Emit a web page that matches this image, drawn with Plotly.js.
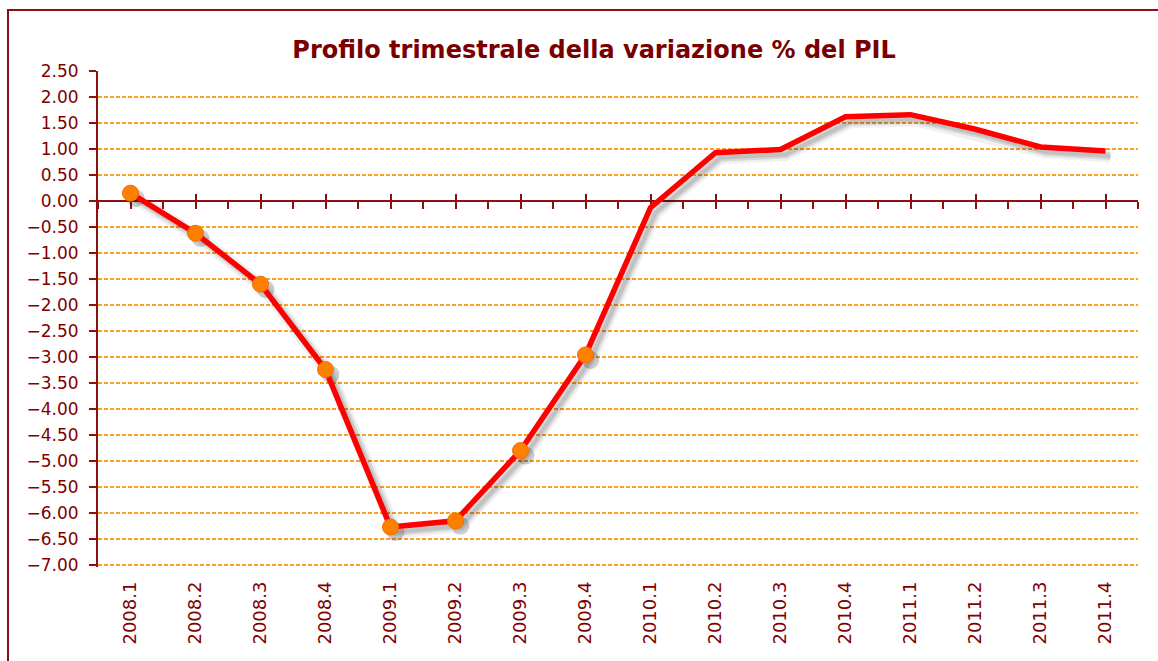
<!DOCTYPE html>
<html>
<head>
<meta charset="utf-8">
<script src="https://cdn.plot.ly/plotly-3.0.1.min.js"></script>
<style>
  html, body { margin: 0; padding: 0; background: #ffffff; overflow: hidden; }
  #chart { position: absolute; left: 0; top: 0; width: 1158px; height: 661px; }
  #frame { position: absolute; left: 7px; top: 9px; width: 1200px; height: 700px;
           border: 2px solid #8B1111; pointer-events: none; }
</style>
</head>
<body>
<div id="chart"></div>
<div id="frame"></div>
<script>
// ---- data ----
const chartTitle = 'Profilo trimestrale della variazione % del PIL';
const categories = ['2008.1','2008.2','2008.3','2008.4','2009.1','2009.2','2009.3','2009.4',
                    '2010.1','2010.2','2010.3','2010.4','2011.1','2011.2','2011.3','2011.4'];
const values = [0.15, -0.62, -1.60, -3.24, -6.27, -6.15, -4.80, -2.96,
                -0.13, 0.93, 0.99, 1.62, 1.66, 1.38, 1.04, 0.96];
const markedCount = 8;   // points shown with a marker (2008.1 - 2009.4)

// ---- styling ----
const textColor = '#800000';
const axisColor = '#8B1111';
const gridColor = '#FFA020';
const pxPerUnit = 52;
const yMin = -7 - 2 / pxPerUnit, yMax = 2.5;   // small pad so the -7.00 gridline is kept
const xMin = -0.5, xMax = categories.length - 0.5;

const M = { l: 98, r: 20, t: 71, b: 94 };
const plotW = 1158 - M.l - M.r, plotH = 661 - M.t - M.b;
const shOffX = 5 * (xMax - xMin) / plotW;   // shadow offset, in axis units
const shOffY = 5 * (yMax - yMin) / plotH;

const markedX = categories.slice(0, markedCount);
const markedY = values.slice(0, markedCount);

// tick positions on the zero axis (category centres + right end)
const upTicks = categories.map((c, i) => i).concat([xMax]);

const helper = (xa, ya) => ({ x: [], y: [], xaxis: xa, yaxis: ya, mode: 'lines',
                              hoverinfo: 'skip', showlegend: false });

const traces = [
  // carries the categories on the base axis (no visible mark)
  { x: categories, y: categories.map(() => null), xaxis: 'x', yaxis: 'y',
    mode: 'lines', hoverinfo: 'skip', showlegend: false },
  helper('x4', 'y'), helper('x5', 'y'),
  // soft shadow
  { x: categories, y: values, xaxis: 'x2', yaxis: 'y2', mode: 'lines',
    line: { color: 'rgba(0,0,0,0.06)', width: 13 }, hoverinfo: 'skip' },
  { x: categories, y: values, xaxis: 'x2', yaxis: 'y2', mode: 'lines',
    line: { color: 'rgba(0,0,0,0.10)', width: 8 }, hoverinfo: 'skip' },
  { x: categories, y: values, xaxis: 'x2', yaxis: 'y2', mode: 'lines',
    line: { color: 'rgba(0,0,0,0.10)', width: 4 }, hoverinfo: 'skip' },
  { x: markedX, y: markedY, xaxis: 'x2', yaxis: 'y2', mode: 'markers',
    marker: { color: 'rgba(0,0,0,0.18)', size: 18 }, hoverinfo: 'skip' },
  // main line
  { x: categories, y: values, xaxis: 'x3', yaxis: 'y3', mode: 'lines',
    line: { color: '#FF0000', width: 5.5 } },
  { x: markedX, y: markedY, xaxis: 'x3', yaxis: 'y3', mode: 'markers',
    marker: { color: '#FF8000', size: 16, line: { color: '#F07000', width: 1 } } }
];

const hiddenX = { overlaying: 'x', type: 'category', visible: false, fixedrange: true };
const hiddenY = { overlaying: 'y', visible: false, fixedrange: true };
const zeroPos = (0 - yMin) / (yMax - yMin);

const layout = {
  width: 1158, height: 661,
  margin: Object.assign({ pad: 0 }, M),
  paper_bgcolor: 'rgba(0,0,0,0)', plot_bgcolor: '#ffffff',
  showlegend: false,
  font: { family: 'DejaVu Sans, Verdana, sans-serif', color: textColor },
  title: {
    text: chartTitle,
    font: { family: 'DejaVu Sans, Verdana, sans-serif', size: 24, color: '#7A0000', weight: 'bold' },
    x: 0.513, xanchor: 'center', y: 1 - 50 / 661, yanchor: 'middle'
  },
  xaxis: {
    type: 'category', range: [xMin, xMax], fixedrange: true,
    showline: false, showgrid: false, zeroline: false, ticks: '',
    tickangle: -90, tickfont: { size: 18, color: textColor },
    ticklabelstandoff: 10
  },
  yaxis: {
    range: [yMin, yMax], fixedrange: true, tickmode: 'linear', tick0: 0, dtick: 0.5,
    tickformat: '.2f', showline: true, linecolor: axisColor, linewidth: 2,
    ticks: 'outside', ticklen: 7, tickwidth: 2, tickcolor: axisColor,
    tickfont: { size: 17, color: textColor }, ticklabelstandoff: 7,
    showgrid: true, gridcolor: gridColor, gridwidth: 1.5, griddash: '4px,2px',
    zeroline: false
  },
  xaxis2: Object.assign({}, hiddenX, { range: [xMin - shOffX, xMax - shOffX] }),
  yaxis2: Object.assign({}, hiddenY, { range: [yMin + shOffY, yMax + shOffY] }),
  xaxis3: Object.assign({}, hiddenX, { range: [xMin, xMax] }),
  yaxis3: Object.assign({}, hiddenY, { range: [yMin, yMax] }),
  // zero axis: ticks pointing down at every half step
  xaxis4: {
    overlaying: 'x', anchor: 'free', position: zeroPos, range: [xMin, xMax],
    fixedrange: true, showline: true, linecolor: axisColor, linewidth: 2,
    tickmode: 'linear', tick0: xMin, dtick: 0.5, ticks: 'outside', ticklen: 7,
    tickwidth: 2, tickcolor: axisColor, showticklabels: false,
    showgrid: false, zeroline: false, layer: 'below traces'
  },
  // zero axis: ticks pointing up at each quarter and at the end
  xaxis5: {
    overlaying: 'x', anchor: 'free', position: zeroPos, range: [xMin, xMax],
    fixedrange: true, showline: false,
    tickmode: 'array', tickvals: upTicks, ticks: 'inside', ticklen: 7,
    tickwidth: 2, tickcolor: axisColor, showticklabels: false,
    showgrid: false, zeroline: false, layer: 'below traces'
  }
};

Plotly.newPlot('chart', traces, layout, { displayModeBar: false, staticPlot: true });
</script>
</body>
</html>
